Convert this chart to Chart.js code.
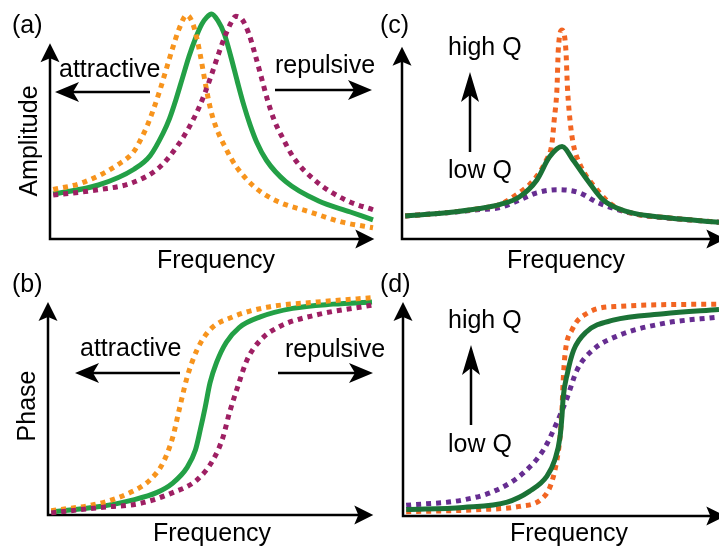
<!DOCTYPE html>
<html>
<head>
<meta charset="utf-8">
<script src="https://cdn.jsdelivr.net/npm/chart.js@4.4.1/dist/chart.umd.min.js"></script>
<style>
  html, body { margin: 0; padding: 0; background: #fff; }
  #wrap { position: relative; width: 719px; height: 547px; overflow: hidden; background: #fff; }
  #wrap canvas { position: absolute; left: 0; top: 0; }
</style>
</head>
<body>
<div id="wrap">
  <canvas id="panelA" width="719" height="547"></canvas>
  <canvas id="panelB" width="719" height="547"></canvas>
  <canvas id="panelC" width="719" height="547"></canvas>
  <canvas id="panelD" width="719" height="547"></canvas>
</div>
<script>
// (a) amplitude vs frequency, shifted by the tip-sample force
const ampFreqOrange = [1, 10, 21, 26, 28, 30, 32, 34, 36, 38, 40, 42.3, 43.5, 44.5, 45.5, 46.5, 47.5, 48.5, 49.5, 50.5, 52, 54, 56, 58, 63, 70, 80.5, 90.5, 100];
const ampOrange     = [22, 25, 33, 39, 44, 50, 57.5, 66, 75.5, 85, 93.5, 99.5, 98, 94.5, 89, 82, 74, 66, 59, 53.5, 47.5, 41.5, 36, 31.5, 23.5, 17, 12, 7.5, 5];
const ampFreqGreen  = [1, 15, 26, 31, 35, 37, 39, 41, 43, 45, 47, 48.5, 50, 52, 54, 56, 58, 60, 62, 64, 67, 73, 83, 93, 100];
const ampGreen      = [20, 24, 31, 37, 47, 53.5, 62, 71.5, 81, 89, 95.5, 98.5, 100, 97, 91, 81, 70, 59.5, 50.5, 43, 35, 25.5, 17, 12, 8.5];
const ampFreqPurple = [1, 15.5, 25.5, 34, 40, 43, 46, 48, 50, 52, 54, 56, 57.5, 59.5, 61.5, 63.5, 65.5, 67.5, 69.5, 72, 75.5, 82.5, 92, 100];
const ampPurple     = [19.5, 22, 25, 32, 42.5, 49.5, 58, 65, 73, 81.5, 89.5, 96, 99, 97.5, 91.5, 82, 71.5, 61, 52.5, 45, 36, 25.5, 17, 13];

// (b) phase vs frequency
const phaseFreqOrange = [1, 16, 26, 31.5, 35.5, 38.5, 40.5, 43, 46, 50, 57, 67.5, 83, 100];
const phaseOrange     = [2, 5.5, 11, 16.5, 24.5, 36.5, 49.5, 65, 77.5, 87, 93, 97.5, 100, 102];
const phaseFreqGreen  = [1, 16, 26, 33.5, 38.5, 43, 45.5, 47, 48.5, 50, 52, 55, 59, 65.5, 75.5, 88, 100];
const phaseGreen      = [1.5, 4, 7, 10.5, 15, 22.5, 30.5, 40, 50.5, 62, 71.5, 81, 88, 93, 97, 99, 100];
const phaseFreqPurple = [1, 16, 28.5, 38.5, 46, 51, 54, 56, 58.5, 61.5, 65.5, 71.5, 83, 100];
const phasePurple     = [1, 3.5, 5.5, 10.5, 16.5, 26, 36.5, 48, 60, 73, 82, 88.5, 94, 98.5];

// (c) amplitude for high / medium / low quality factor
const qAmpFreqHigh = [1, 14, 24.5, 31, 35, 41.5, 45.5, 47.3, 48, 48.9, 49.3, 50.5, 51.7, 52.2, 53, 54, 56, 61.5, 66.5, 72, 84.5, 100];
const qAmpHigh     = [11, 12.5, 14.5, 16.5, 20, 28, 37.5, 45.5, 56.5, 72, 90, 99.5, 90, 72, 56.5, 45.5, 36, 23.5, 16, 12.5, 10, 8];
const qAmpFreqMid  = [1, 14, 24.5, 31, 37, 42.5, 46.5, 50.5, 54, 58.5, 63.5, 71, 84.5, 100];
const qAmpMid      = [11, 12.5, 14.5, 16.5, 20, 28, 39, 44, 37.5, 28, 18.5, 13, 10, 8];
const qAmpFreqLow  = [1, 14, 24.5, 31, 37, 42.5, 49, 56, 61.5, 68, 75, 87.5, 100];
const qAmpLow      = [11, 12.5, 14, 15, 18.5, 22, 23.5, 22, 17.5, 14, 11.5, 9.5, 8];

// (d) phase for high / medium / low quality factor
const qPhaseFreqHigh = [1, 24.5, 37, 43.5, 46.5, 48.5, 49.7, 50.3, 50.7, 51.3, 53.5, 58, 68.5, 100];
const qPhaseHigh     = [2, 3, 4.5, 7.5, 13.5, 24.5, 37, 49.5, 63.5, 76, 87, 94.5, 98, 99];
const qPhaseFreqMid  = [1, 19, 33, 40, 45.5, 48, 49.7, 50.3, 50.7, 52, 54, 58, 66.5, 82.5, 100];
const qPhaseMid      = [3, 4, 6.5, 11.5, 18.5, 26, 37, 46.5, 55.5, 66.5, 77.5, 86, 91.5, 94.5, 96.5];
const qPhaseFreqLow  = [1, 19, 29.5, 38, 44.5, 48.5, 52, 55, 60, 68.5, 82.5, 100];
const qPhaseLow      = [5, 7.5, 12, 20, 31, 43, 55.5, 68, 77.5, 84.5, 90, 93];

const FONT = '25px "Liberation Sans", Arial, sans-serif';

const toPoints = (xs, ys) => xs.map((x, i) => ({ x: x, y: ys[i] }));

const curve = (xs, ys, color, dotted) => ({
    data: toPoints(xs, ys),
    borderColor: color,
    borderWidth: 5,
    borderDash: dotted ? [5, 5] : [],
    borderCapStyle: 'butt',
    pointRadius: 0,
    cubicInterpolationMode: 'monotone',
    fill: false,
    clip: false
});

// filled stealth-style arrow head, tip at (x, y)
function arrowHead(ctx, x, y, angle, len, half, notch) {
    ctx.save();
    ctx.translate(x, y);
    ctx.rotate(angle);
    ctx.beginPath();
    ctx.moveTo(0, 0);
    ctx.lineTo(-len, half);
    ctx.lineTo(-len + notch, 0);
    ctx.lineTo(-len, -half);
    ctx.closePath();
    ctx.fill();
    ctx.restore();
}

function arrow(ctx, x1, y1, x2, y2, len, half, notch) {
    const ang = Math.atan2(y2 - y1, x2 - x1);
    ctx.beginPath();
    ctx.moveTo(x1, y1);
    ctx.lineTo(x2 - Math.cos(ang) * (len - notch), y2 - Math.sin(ang) * (len - notch));
    ctx.stroke();
    arrowHead(ctx, x2, y2, ang, len, half, notch);
}

// axes with arrow heads, panel letter, axis names and annotations
const sketchPlugin = {
    id: 'sketch',
    beforeDatasetsDraw(chart, args, opts) {
        const ctx = chart.ctx;
        const xs = chart.scales.x, ys = chart.scales.y;
        const x0 = xs.getPixelForValue(0), y0 = ys.getPixelForValue(0);
        const yTip = ys.getPixelForValue(opts.yTip);
        const xTip = xs.getPixelForValue(opts.xTip);
        ctx.save();
        ctx.strokeStyle = '#000';
        ctx.fillStyle = '#000';
        ctx.lineWidth = 2.5;
        ctx.beginPath();
        ctx.moveTo(x0, yTip + 14);
        ctx.lineTo(x0, y0);
        ctx.lineTo(xTip - 14, y0);
        ctx.stroke();
        arrowHead(ctx, x0, yTip, -Math.PI / 2, 19, 9.5, 4);
        arrowHead(ctx, xTip, y0, 0, 19, 9.5, 4);
        ctx.restore();
    },
    afterDatasetsDraw(chart, args, opts) {
        const ctx = chart.ctx;
        ctx.save();
        ctx.fillStyle = '#000';
        ctx.strokeStyle = '#000';
        ctx.font = FONT;
        ctx.textBaseline = 'alphabetic';
        opts.texts.forEach(t => {
            ctx.save();
            ctx.translate(t.x, t.y);
            if (t.rotate) ctx.rotate(-Math.PI / 2);
            ctx.textAlign = t.align || 'left';
            ctx.fillText(t.text, 0, 0);
            ctx.restore();
        });
        ctx.lineWidth = 2.5;
        opts.arrows.forEach(a => arrow(ctx, a[0], a[1], a[2], a[3], a[4], a[5], a[6]));
        ctx.restore();
    }
};

function makePanel(id, pad, datasets, yMax, sketch) {
    return new Chart(document.getElementById(id).getContext('2d'), {
        type: 'line',
        data: { datasets: datasets },
        options: {
            responsive: false,
            animation: false,
            events: [],
            layout: { padding: pad },
            scales: {
                x: { type: 'linear', min: 0, max: 100, display: false },
                y: { type: 'linear', min: 0, max: yMax, display: false }
            },
            plugins: {
                legend: { display: false },
                tooltip: { enabled: false },
                sketch: sketch
            }
        },
        plugins: [sketchPlugin]
    });
}

const orangeA = '#F7941D', greenA = '#23A046', purpleA = '#9E1F63';
const orangeQ = '#F26522', greenQ = '#1B7236', purpleQ = '#662D91';

makePanel('panelA', { left: 50, right: 346, top: 14, bottom: 308 }, [
    curve(ampFreqPurple, ampPurple, purpleA, true),
    curve(ampFreqOrange, ampOrange, orangeA, true),
    curve(ampFreqGreen, ampGreen, greenA, false)
], 100, {
    yTip: 87, xTip: 100.4,
    texts: [
        { text: '(a)', x: 12, y: 33 },
        { text: 'attractive', x: 59, y: 77 },
        { text: 'repulsive', x: 275, y: 73 },
        { text: 'Amplitude', x: 37, y: 141, align: 'center', rotate: true },
        { text: 'Frequency', x: 216, y: 268, align: 'center' }
    ],
    arrows: [[150, 92, 55, 92, 24, 10, 6], [275, 90, 372, 90, 24, 10, 6]]
});

makePanel('panelB', { left: 48, right: 347, top: 302, bottom: 32 }, [
    curve(phaseFreqPurple, phasePurple, purpleA, true),
    curve(phaseFreqOrange, phaseOrange, orangeA, true),
    curve(phaseFreqGreen, phaseGreen, greenA, false)
], 100, {
    yTip: 100, xTip: 100.4,
    texts: [
        { text: '(b)', x: 12, y: 292 },
        { text: 'attractive', x: 80, y: 356 },
        { text: 'repulsive', x: 285, y: 357 },
        { text: 'Phase', x: 35, y: 406, align: 'center', rotate: true },
        { text: 'Frequency', x: 212, y: 541, align: 'center' }
    ],
    arrows: [[180, 373, 75, 373, 24, 10, 6], [278, 373, 373, 373, 24, 10, 6]]
});

makePanel('panelC', { left: 402, right: 0, top: 29, bottom: 308 }, [
    curve(qAmpFreqMid, qAmpMid, greenQ, false),
    curve(qAmpFreqHigh, qAmpHigh, orangeQ, true),
    curve(qAmpFreqLow, qAmpLow, purpleQ, true)
], 100, {
    yTip: 91.5, xTip: 102,
    texts: [
        { text: '(c)', x: 380, y: 33 },
        { text: 'high Q', x: 448, y: 55 },
        { text: 'low Q', x: 448, y: 178 },
        { text: 'Frequency', x: 566, y: 268, align: 'center' }
    ],
    arrows: [[470, 152, 470, 72, 30, 9, 7]]
});

makePanel('panelD', { left: 403, right: 0, top: 302, bottom: 31 }, [
    curve(qPhaseFreqMid, qPhaseMid, greenQ, false),
    curve(qPhaseFreqHigh, qPhaseHigh, orangeQ, true),
    curve(qPhaseFreqLow, qPhaseLow, purpleQ, true)
], 100, {
    yTip: 100, xTip: 102,
    texts: [
        { text: '(d)', x: 380, y: 292 },
        { text: 'high Q', x: 448, y: 328 },
        { text: 'low Q', x: 448, y: 452 },
        { text: 'Frequency', x: 569, y: 541, align: 'center' }
    ],
    arrows: [[471, 425, 471, 345, 30, 9, 7]]
});
</script>
</body>
</html>
